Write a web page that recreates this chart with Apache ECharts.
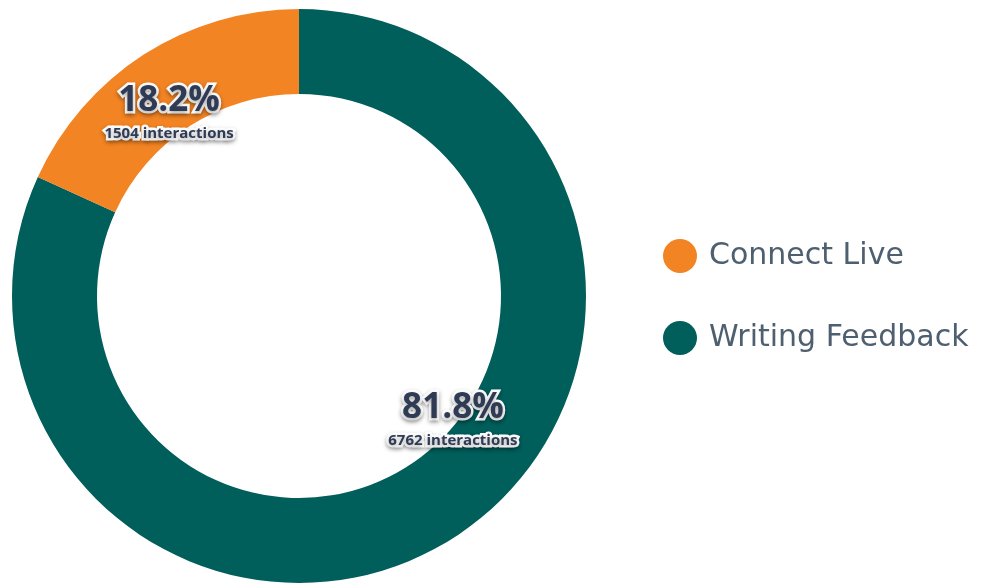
<!DOCTYPE html>
<html>
<head>
<meta charset="utf-8">
<script src="https://cdn.jsdelivr.net/npm/echarts@6/dist/echarts.min.js"></script>
<style>
html,body{margin:0;padding:0;background:#fff;}
#c{width:984px;height:584px;}
</style>
</head>
<body>
<div id="c"></div>
<script>
var categories = ['Writing Feedback', 'Connect Live'];
var interactions = [6762, 1504];
var colors = ['#005E5B', '#F28423'];
var legendOrder = ['Connect Live', 'Writing Feedback'];
var labelOffsets = [[20, -85], [4, 24]];

var chart = echarts.init(document.getElementById('c'), null, {renderer: 'canvas'});
var textFx = {
  textBorderColor: '#ffffff',
  textBorderWidth: 5,
  textShadowColor: 'rgba(0,0,0,0.35)',
  textShadowBlur: 4,
  textShadowOffsetY: 2
};
chart.setOption({
  animation: false,
  legend: {
    orient: 'vertical',
    left: 663,
    top: 239,
    padding: 0,
    data: legendOrder,
    icon: 'circle',
    itemWidth: 34,
    itemHeight: 34,
    itemGap: 48,
    textStyle: {
      fontFamily: 'DejaVu Sans',
      fontSize: 30,
      color: '#4e5f70',
      padding: [0, 0, 0, 7]
    }
  },
  series: [{
    type: 'pie',
    center: [299, 296],
    radius: [202, 287],
    startAngle: 90,
    clockwise: true,
    percentPrecision: 1,
    silent: true,
    labelLine: {show: false},
    label: {
      show: true,
      position: 'inside',
      formatter: '{p|{d}%}\n{s|{c} interactions}',
      rich: {
        p: Object.assign({fontFamily: 'Open Sans', fontWeight: 'bold', fontSize: 35, color: '#2f3b55', lineHeight: 44}, textFx),
        s: Object.assign({fontFamily: 'Open Sans', fontWeight: 'bold', fontSize: 15, color: '#2f3b55', lineHeight: 22}, textFx)
      }
    },
    data: categories.map(function (name, i) {
      return {
        name: name,
        value: interactions[i],
        itemStyle: {color: colors[i]},
        label: {offset: labelOffsets[i]}
      };
    })
  }]
});
</script>
</body>
</html>
